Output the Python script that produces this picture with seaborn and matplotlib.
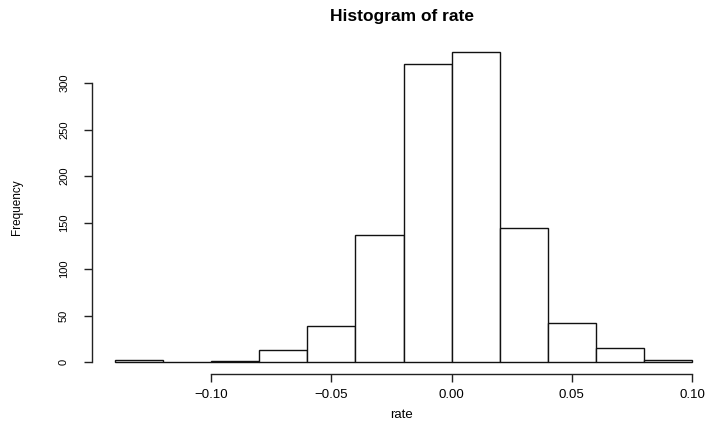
import matplotlib
matplotlib.use("Agg")
import matplotlib.pyplot as plt
import seaborn as sns

# Histogram of rate: bin edges and counts
bin_edges = [-0.14, -0.12, -0.10, -0.08, -0.06, -0.04, -0.02,
             0.00, 0.02, 0.04, 0.06, 0.08, 0.10]
bin_counts = [2, 0, 1, 13, 39, 137, 321, 333, 144, 42, 15, 2]
bin_centers = [(a + b) / 2 for a, b in zip(bin_edges[:-1], bin_edges[1:])]

x_ticks = [-0.10, -0.05, 0.00, 0.05, 0.10]
x_tick_labels = ["\u22120.10", "\u22120.05", "0.00", "0.05", "0.10"]
y_ticks = [0, 50, 100, 150, 200, 250, 300]

sns.set_style("white", {"text.color": "black", "axes.labelcolor": "black",
                        "xtick.color": "black", "ytick.color": "black"})
plt.rcParams["font.family"] = ["Liberation Sans", "DejaVu Sans"]

W, H = 711, 428
fig = plt.figure(figsize=(W / 100, H / 100), dpi=100)
# plot region in pixels: left 92, top 40, right 711, bottom 374.4
ax = fig.add_axes([92 / W, 1 - 374.4 / H, (711 - 92) / W, (374.4 - 40) / H])

sns.histplot(x=bin_centers, weights=bin_counts, bins=bin_edges,
             color="white", edgecolor="#111111", linewidth=1.0, alpha=1,
             ax=ax)

ax.set_xlim(-0.1496, 0.1079)
ax.set_ylim(-13.3, 346.3)

for side in ["top", "right"]:
    ax.spines[side].set_visible(False)
for side in ["left", "bottom"]:
    ax.spines[side].set_linewidth(1.0)
    ax.spines[side].set_color("#222222")
ax.spines["bottom"].set_bounds(-0.10, 0.10)
ax.spines["left"].set_bounds(0, 300)

ax.set_xticks(x_ticks)
ax.set_xticklabels(x_tick_labels)
ax.set_yticks(y_ticks)
ax.tick_params(axis="both", direction="out", length=5.5, width=1.0,
               color="#222222", labelcolor="black", labelsize=8,
               bottom=True, left=True)
ax.tick_params(axis="x", pad=5, labelsize=9.5)
ax.tick_params(axis="y", pad=11)
for lab in ax.get_yticklabels():
    lab.set_rotation(90)
    lab.set_va("center")

ax.set_xlabel("rate", fontsize=9.5, va="center", color="black")
ax.set_ylabel("Frequency", fontsize=8.5, va="center", color="black")
ax.xaxis.set_label_coords(0.5, (374.4 - 415) / (374.4 - 40))
ax.yaxis.set_label_coords((17 - 92) / (711 - 92), 0.5)
ax.set_title("Histogram of rate", fontsize=12.5, fontweight="bold",
             color="black", y=(374.4 - 17) / (374.4 - 40), va="center", pad=0)

fig.savefig("out.png", dpi=100, facecolor="white")
